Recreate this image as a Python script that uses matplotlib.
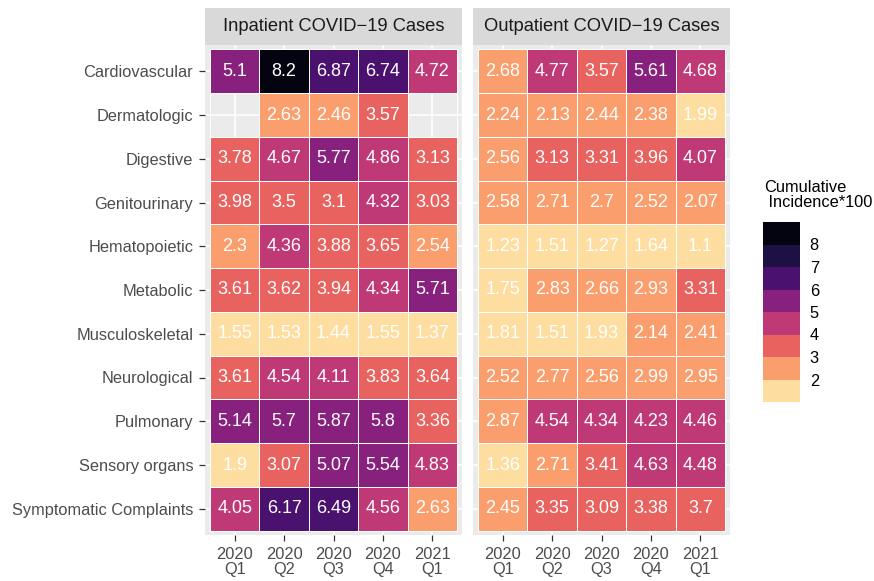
import numpy as np
import matplotlib
matplotlib.use("Agg")
import matplotlib.pyplot as plt
from matplotlib.colors import ListedColormap, BoundaryNorm
from matplotlib.cm import ScalarMappable

plt.rcParams['font.family'] = ['Liberation Sans', 'DejaVu Sans']

categories = ["Cardiovascular", "Dermatologic", "Digestive", "Genitourinary",
              "Hematopoietic", "Metabolic", "Musculoskeletal", "Neurological",
              "Pulmonary", "Sensory organs", "Symptomatic Complaints"]
quarters = ["2020\nQ1", "2020\nQ2", "2020\nQ3", "2020\nQ4", "2021\nQ1"]
panels = ["Inpatient COVID\u221219 Cases", "Outpatient COVID\u221219 Cases"]

inpatient = [
    [5.1, 8.2, 6.87, 6.74, 4.72],
    [np.nan, 2.63, 2.46, 3.57, np.nan],
    [3.78, 4.67, 5.77, 4.86, 3.13],
    [3.98, 3.5, 3.1, 4.32, 3.03],
    [2.3, 4.36, 3.88, 3.65, 2.54],
    [3.61, 3.62, 3.94, 4.34, 5.71],
    [1.55, 1.53, 1.44, 1.55, 1.37],
    [3.61, 4.54, 4.11, 3.83, 3.64],
    [5.14, 5.7, 5.87, 5.8, 3.36],
    [1.9, 3.07, 5.07, 5.54, 4.83],
    [4.05, 6.17, 6.49, 4.56, 2.63],
]
outpatient = [
    [2.68, 4.77, 3.57, 5.61, 4.68],
    [2.24, 2.13, 2.44, 2.38, 1.99],
    [2.56, 3.13, 3.31, 3.96, 4.07],
    [2.58, 2.71, 2.7, 2.52, 2.07],
    [1.23, 1.51, 1.27, 1.64, 1.1],
    [1.75, 2.83, 2.66, 2.93, 3.31],
    [1.81, 1.51, 1.93, 2.14, 2.41],
    [2.52, 2.77, 2.56, 2.99, 2.95],
    [2.87, 4.54, 4.34, 4.23, 4.46],
    [1.36, 2.71, 3.41, 4.63, 4.48],
    [2.45, 3.35, 3.09, 3.38, 3.7],
]

breaks = [0, 2, 3, 4, 5, 6, 7, 8, 10]
bin_colors = ["#FEDDA0", "#FB9E6E", "#E8625F", "#BE3976",
              "#87217D", "#4B116E", "#1C1044", "#040310"]
cmap = ListedColormap(bin_colors)
norm = BoundaryNorm(breaks, cmap.N)

W, H = 874, 581
fig = plt.figure(figsize=(W / 100, H / 100), dpi=100)

panel_x = [205, 473]
panel_w = 257
top, bottom = 45, 535
strip_top = 8

for k, (name, data) in enumerate(zip(panels, [inpatient, outpatient])):
    ax = fig.add_axes([panel_x[k] / W, 1 - bottom / H, panel_w / W, (bottom - top) / H])
    ax.set_facecolor("#EBEBEB")
    vals = np.ma.masked_invalid(np.array(data))
    xe = np.arange(len(quarters) + 1) - 0.5
    ye = np.arange(len(categories) + 1) - 0.5
    ax.pcolormesh(xe, ye, vals, cmap=cmap, norm=norm, edgecolors="white",
                  linewidth=0.7, zorder=2)
    for i in range(len(categories)):
        for j in range(len(quarters)):
            v = data[i][j]
            if not np.isnan(v):
                ax.text(j, i, f"{v:g}", ha="center", va="center", color="white",
                        fontsize=13, zorder=3)
    ax.set_xlim(-0.6, len(quarters) - 0.4)
    ax.set_ylim(len(categories) - 0.4, -0.6)
    ax.set_xticks(range(len(quarters)))
    ax.set_xticklabels(quarters, fontsize=11.8, color="#4D4D4D", linespacing=1.0)
    ax.set_yticks(range(len(categories)))
    if k == 0:
        ax.set_yticklabels(categories, fontsize=11.8, color="#4D4D4D")
    else:
        ax.tick_params(axis="y", left=False, labelleft=False)
    ax.tick_params(length=4, width=0.9, color="#333333", pad=4.5)
    ax.grid(True, color="white", linewidth=1.2, zorder=1)
    ax.set_axisbelow(True)
    for s in ax.spines.values():
        s.set_visible(False)

    sax = fig.add_axes([panel_x[k] / W, 1 - top / H, panel_w / W, (top - strip_top) / H])
    sax.set_facecolor("#D9D9D9")
    sax.set_xticks([])
    sax.set_yticks([])
    for s in sax.spines.values():
        s.set_visible(False)
    sax.text(0.5, 0.5, name, ha="center", va="center", fontsize=13.2,
             color="#1A1A1A", transform=sax.transAxes)

cax = fig.add_axes([763 / W, 1 - 402 / H, 37 / W, 180 / H])
sm = ScalarMappable(norm=norm, cmap=cmap)
cb = fig.colorbar(sm, cax=cax, spacing="uniform", ticks=breaks[1:-1])
cb.minorticks_off()
cb.outline.set_visible(False)
cb.ax.tick_params(which="both", length=0, labelsize=11.8, pad=7)
fig.text(764 / W, 1 - 180 / H, "Cumulative\n Incidence*100", ha="left", va="top",
         fontsize=11.8, linespacing=1.0)

fig.savefig("out.png", dpi=100)
